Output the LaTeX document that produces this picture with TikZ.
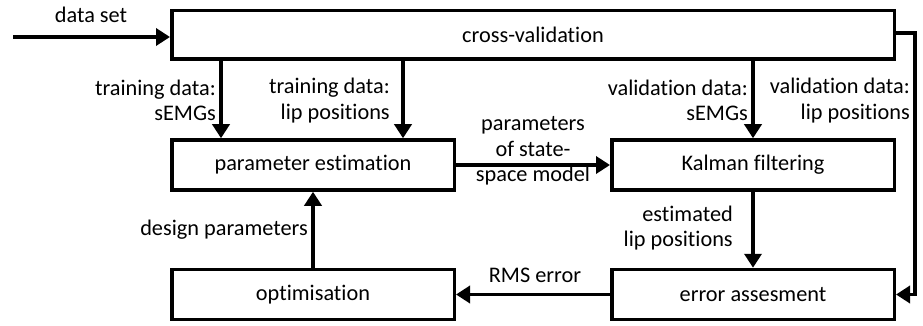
\documentclass[tikz,border=0pt]{standalone}
\usepackage{fontspec}
\setmainfont{Carlito}[Ligatures=NoCommon]
\usetikzlibrary{arrows.meta}
\tikzset{
  blk/.style={draw, line width=3.5pt, inner sep=0pt, minimum height=50pt, minimum width=282.5pt, font=\fontsize{22.3}{25.5}\selectfont},
  arr/.style={line width=3.5pt, -{Triangle[length=14pt,width=17pt]}},
  lbl/.style={inner sep=0pt, font=\fontsize{22.3}{25.5}\selectfont},
}
\begin{document}
\begin{tikzpicture}[x=1pt,y=-1pt]
\useasboundingbox (0,0) rectangle (923,326);
\node[blk, minimum width=722.5pt, minimum height=48.5pt] (cv) at (533,35) {cross-validation};
\node[blk] (pe) at (313,165) {parameter estimation};
\node[blk] (kf) at (753,165) {Kalman filtering};
\node[blk] (opt) at (313,294.5) {optimisation};
\node[blk] (ea) at (753,294.5) {error assesment};
\coordinate (ds) at (13,37);
\coordinate (rc) at (915,33);
\node[lbl] (dsl) at (91,15) {data set};
\draw[arr] (ds) -- (ds -| cv.west);
\draw[arr] (cv.south -| 221,0) -- (pe.north -| 221,0);
\draw[arr] (cv.south -| 403,0) -- (pe.north -| 403,0);
\draw[arr] (cv.south -| kf.north) -- (kf.north);
\draw[arr] (pe) -- (kf);
\draw[arr] (kf) -- (ea);
\draw[arr] (ea) -- (opt);
\draw[arr] (opt) -- (pe);
\draw[arr] (cv.east |- rc) -- (rc) -- (rc |- ea) -- (ea.east);
\node[lbl, anchor=east, align=right] (l1) at (216,100.5) {training data:\\sEMGs};
\node[lbl, anchor=east, align=right] (l2) at (390,100.5) {training data:\\lip positions};
\node[lbl, anchor=east, align=right] (l3) at (748,100.5) {validation data:\\sEMGs};
\node[lbl, anchor=east, align=right] (l4) at (910,100.5) {validation data:\\lip positions};
\node[lbl, align=center] (l5) at (533,151) {parameters\\of state-\\space model};
\node[lbl, anchor=east, align=right] (l6) at (733,228) {estimated\\lip positions};
\node[lbl, anchor=east] (l7) at (308,230) {design parameters};
\node[lbl] (l8) at (535,275) {RMS error};
\end{tikzpicture}
\end{document}
